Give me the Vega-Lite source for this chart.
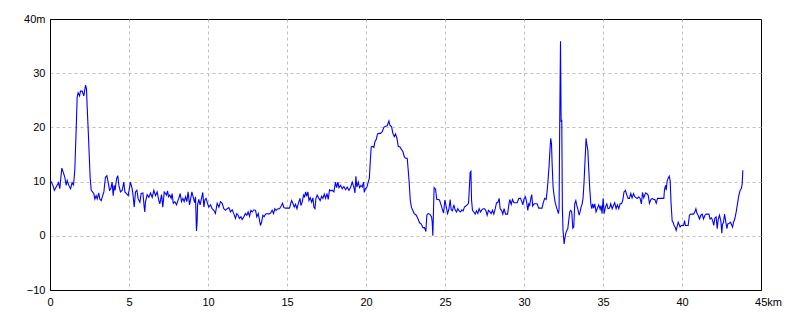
{
  "$schema": "https://vega.github.io/schema/vega-lite/v6.json",
  "autosize": "none",
  "width": 711,
  "height": 271,
  "padding": {"left": 50, "top": 19, "right": 39, "bottom": 30},
  "background": "white",
  "config": {
    "view": {"stroke": "#000000", "strokeWidth": 1},
    "axis": {
      "labelFont": "Liberation Sans Narrow, Liberation Sans, sans-serif",
      "labelFontSize": 11,
      "labelColor": "#000000",
      "domainColor": "#000000",
      "domainWidth": 1,
      "ticks": false,
      "grid": true,
      "gridColor": "#c0c0c0",
      "gridDash": [3, 3],
      "gridWidth": 1,
      "title": null
    }
  },
  "data": {"values": [
    {"x":0,"y":10.0},{"x":0.07,"y":10.0},{"x":0.18,"y":9.3},{"x":0.28,"y":8.4},{"x":0.39,"y":9.0},{"x":0.54,"y":9.8},{"x":0.62,"y":8.7},{"x":0.71,"y":11.4},{"x":0.75,"y":12.5},{"x":0.85,"y":11.6},{"x":0.94,"y":10.8},{"x":1.02,"y":9.3},{"x":1.09,"y":10.2},{"x":1.19,"y":9.3},{"x":1.30,"y":8.7},{"x":1.40,"y":9.8},{"x":1.49,"y":9.4},{"x":1.57,"y":12.2},{"x":1.66,"y":20},{"x":1.72,"y":25.6},{"x":1.78,"y":26.4},{"x":1.87,"y":25.8},{"x":1.93,"y":26.7},{"x":2.04,"y":26.7},{"x":2.14,"y":25.8},{"x":2.25,"y":27.8},{"x":2.31,"y":27.1},{"x":2.35,"y":24},{"x":2.42,"y":19.4},{"x":2.48,"y":15.1},{"x":2.54,"y":10.8},{"x":2.61,"y":8.4},{"x":2.69,"y":8.1},{"x":2.77,"y":7.8},{"x":2.84,"y":6.8},{"x":2.92,"y":7.4},{"x":2.99,"y":6.8},{"x":3.09,"y":7.9},{"x":3.15,"y":6.8},{"x":3.24,"y":6.5},{"x":3.30,"y":7.1},{"x":3.41,"y":8.1},{"x":3.51,"y":10.8},{"x":3.60,"y":11.1},{"x":3.68,"y":9.9},{"x":3.77,"y":8.4},{"x":3.85,"y":8.7},{"x":3.93,"y":9.9},{"x":4.00,"y":7.4},{"x":4.06,"y":9.3},{"x":4.12,"y":8.4},{"x":4.21,"y":10.5},{"x":4.29,"y":11.1},{"x":4.36,"y":9.3},{"x":4.46,"y":8.1},{"x":4.57,"y":8.4},{"x":4.67,"y":9.9},{"x":4.74,"y":8.1},{"x":4.84,"y":7.8},{"x":4.95,"y":7.4},{"x":5.09,"y":9.9},{"x":5.20,"y":8.7},{"x":5.26,"y":7.4},{"x":5.33,"y":5.3},{"x":5.41,"y":8.1},{"x":5.50,"y":8.4},{"x":5.58,"y":6.8},{"x":5.69,"y":6.2},{"x":5.77,"y":7.8},{"x":5.88,"y":7.9},{"x":5.96,"y":5.3},{"x":6.00,"y":4.4},{"x":6.04,"y":6.2},{"x":6.15,"y":7.6},{"x":6.26,"y":7.1},{"x":6.36,"y":7.9},{"x":6.47,"y":7.1},{"x":6.57,"y":8.4},{"x":6.68,"y":7.4},{"x":6.78,"y":8.1},{"x":6.89,"y":6.5},{"x":6.95,"y":5.9},{"x":7.06,"y":7.6},{"x":7.14,"y":5.3},{"x":7.23,"y":8.1},
    {"x":7.31,"y":7.8},{"x":7.37,"y":7.5},{"x":7.44,"y":8.3},{"x":7.50,"y":7.2},{"x":7.58,"y":7.5},{"x":7.67,"y":6.9},{"x":7.73,"y":7.8},{"x":7.80,"y":6.0},{"x":7.90,"y":6.3},{"x":8.01,"y":5.7},{"x":8.07,"y":6.3},{"x":8.15,"y":6.9},{"x":8.24,"y":7.8},{"x":8.32,"y":6.3},{"x":8.41,"y":6.9},{"x":8.49,"y":6.3},{"x":8.58,"y":7.2},{"x":8.66,"y":6.3},{"x":8.74,"y":8.1},{"x":8.83,"y":5.7},{"x":8.89,"y":6.6},{"x":8.98,"y":8.1},{"x":9.06,"y":7.2},{"x":9.15,"y":6.1},{"x":9.21,"y":7.2},{"x":9.27,"y":0.9},{"x":9.31,"y":2.5},{"x":9.34,"y":5.7},{"x":9.42,"y":6.7},{"x":9.50,"y":5.7},{"x":9.59,"y":6.9},{"x":9.67,"y":8.0},{"x":9.74,"y":5.3},{"x":9.80,"y":6.6},{"x":9.88,"y":6.9},{"x":9.97,"y":6.0},{"x":10.05,"y":5.3},{"x":10.16,"y":5.7},{"x":10.26,"y":5.0},{"x":10.37,"y":4.7},{"x":10.47,"y":4.1},{"x":10.58,"y":6.0},{"x":10.69,"y":5.3},{"x":10.79,"y":6.3},{"x":10.90,"y":6.0},{"x":11.00,"y":5.0},{"x":11.11,"y":4.7},{"x":11.21,"y":5.0},{"x":11.32,"y":5.2},{"x":11.42,"y":4.4},{"x":11.53,"y":4.8},{"x":11.63,"y":4.1},{"x":11.74,"y":3.2},{"x":11.82,"y":4.1},{"x":11.91,"y":3.8},{"x":11.99,"y":3.2},{"x":12.08,"y":3.5},{"x":12.16,"y":3.0},{"x":12.27,"y":3.5},{"x":12.37,"y":4.1},{"x":12.46,"y":3.8},{"x":12.54,"y":4.4},{"x":12.63,"y":3.6},{"x":12.71,"y":4.7},{"x":12.80,"y":4.4},{"x":12.90,"y":4.8},{"x":13.01,"y":4.7},{"x":13.09,"y":3.5},{"x":13.18,"y":4.1},{"x":13.26,"y":2.9},{"x":13.32,"y":1.9},{"x":13.39,"y":2.5},{"x":13.47,"y":3.8},{"x":13.55,"y":3.5},{"x":13.64,"y":4.0},{"x":13.74,"y":4.1},{"x":13.85,"y":4.0},{"x":13.96,"y":4.2},{"x":14.06,"y":4.7},{"x":14.15,"y":4.1},{"x":14.23,"y":5.0},{"x":14.31,"y":4.7},{"x":14.42,"y":5.0},{"x":14.53,"y":5.0},{"x":14.63,"y":5.5},{"x":14.72,"y":6.0},{"x":14.80,"y":5.2},
    {"x":14.91,"y":5.1},{"x":15.04,"y":5.1},{"x":15.16,"y":5.1},{"x":15.23,"y":5.9},{"x":15.29,"y":6.5},{"x":15.37,"y":6.0},{"x":15.46,"y":5.3},{"x":15.54,"y":5.8},{"x":15.63,"y":5.0},{"x":15.71,"y":5.9},{"x":15.82,"y":6.9},{"x":15.88,"y":5.6},{"x":15.96,"y":6.2},{"x":16.05,"y":7.5},{"x":16.11,"y":7.2},{"x":16.18,"y":8.1},{"x":16.24,"y":7.3},{"x":16.32,"y":8.1},{"x":16.39,"y":6.5},{"x":16.47,"y":7.0},{"x":16.56,"y":6.2},{"x":16.64,"y":7.0},{"x":16.70,"y":5.3},{"x":16.77,"y":5.0},{"x":16.83,"y":6.9},{"x":16.91,"y":7.5},{"x":17.02,"y":6.9},{"x":17.10,"y":6.5},{"x":17.19,"y":7.3},{"x":17.27,"y":6.9},{"x":17.36,"y":7.7},{"x":17.44,"y":6.9},{"x":17.53,"y":7.8},{"x":17.61,"y":6.7},{"x":17.69,"y":8.5},{"x":17.78,"y":8.3},{"x":17.86,"y":8.4},{"x":17.97,"y":8.1},{"x":18.07,"y":9.9},{"x":18.14,"y":8.9},{"x":18.22,"y":9.9},{"x":18.29,"y":8.9},{"x":18.39,"y":9.3},{"x":18.50,"y":8.7},{"x":18.60,"y":9.1},{"x":18.71,"y":8.5},{"x":18.81,"y":9.0},{"x":18.92,"y":8.4},{"x":19.02,"y":8.9},{"x":19.13,"y":9.9},{"x":19.23,"y":9.0},{"x":19.30,"y":7.9},{"x":19.36,"y":11.0},{"x":19.42,"y":9.0},{"x":19.51,"y":9.9},{"x":19.59,"y":8.9},{"x":19.68,"y":9.3},{"x":19.76,"y":9.0},{"x":19.85,"y":9.9},{"x":19.89,"y":8.0},{"x":19.97,"y":8.7},{"x":20.06,"y":9.0},{"x":20.14,"y":9.9},{"x":20.21,"y":10.6},{"x":20.27,"y":13.6},{"x":20.33,"y":16.4},{"x":20.42,"y":16.5},{"x":20.50,"y":16.3},{"x":20.56,"y":17.3},{"x":20.65,"y":17.8},{"x":20.73,"y":18.8},{"x":20.82,"y":18.9},{"x":20.92,"y":18.9},{"x":21.03,"y":19.2},{"x":21.13,"y":20.0},{"x":21.24,"y":20.2},{"x":21.34,"y":20.3},{"x":21.45,"y":21.2},{"x":21.51,"y":20.4},{"x":21.62,"y":20.1},{"x":21.70,"y":18.9},{"x":21.79,"y":18.3},{"x":21.87,"y":18.8},{"x":21.96,"y":18.0},{"x":22.04,"y":16.5},{"x":22.15,"y":16.4},{"x":22.25,"y":15.9},{"x":22.34,"y":15.5},{"x":22.42,"y":14.6},
    {"x":22.50,"y":14.3},{"x":22.61,"y":14.3},{"x":22.67,"y":12.2},{"x":22.73,"y":10.0},{"x":22.80,"y":6.6},{"x":22.88,"y":5.2},{"x":22.96,"y":4.7},{"x":23.05,"y":4.1},{"x":23.18,"y":3.8},{"x":23.28,"y":3.2},{"x":23.39,"y":2.4},{"x":23.49,"y":2.2},{"x":23.60,"y":1.5},{"x":23.70,"y":1.5},{"x":23.79,"y":0.8},{"x":23.85,"y":3.8},{"x":23.93,"y":4.1},{"x":24.04,"y":4.0},{"x":24.15,"y":3.5},{"x":24.19,"y":2.5},{"x":24.23,"y":0},{"x":24.27,"y":4.4},{"x":24.31,"y":8.9},{"x":24.40,"y":8.6},{"x":24.48,"y":6.7},{"x":24.57,"y":6.7},{"x":24.65,"y":6.6},{"x":24.74,"y":5.8},{"x":24.82,"y":5.0},{"x":24.91,"y":4.2},{"x":24.99,"y":6.6},{"x":25.07,"y":5.5},{"x":25.16,"y":4.1},{"x":25.24,"y":4.8},{"x":25.33,"y":6.7},{"x":25.39,"y":4.8},{"x":25.47,"y":4.6},{"x":25.56,"y":5.7},{"x":25.64,"y":4.8},{"x":25.73,"y":4.4},{"x":25.81,"y":5.0},{"x":25.90,"y":4.6},{"x":25.98,"y":4.4},{"x":26.07,"y":4.8},{"x":26.15,"y":4.6},{"x":26.23,"y":5.3},{"x":26.32,"y":5.5},{"x":26.40,"y":5.7},{"x":26.49,"y":6.0},{"x":26.53,"y":8.1},{"x":26.59,"y":11.7},{"x":26.64,"y":11.9},{"x":26.68,"y":6.6},{"x":26.74,"y":4.7},{"x":26.82,"y":4.4},{"x":26.91,"y":4.0},{"x":26.99,"y":4.6},{"x":27.08,"y":4.1},{"x":27.16,"y":5.0},{"x":27.25,"y":4.4},{"x":27.33,"y":4.8},{"x":27.42,"y":5.0},{"x":27.50,"y":5.0},{"x":27.58,"y":4.7},{"x":27.67,"y":3.8},{"x":27.75,"y":4.7},{"x":27.84,"y":4.4},{"x":27.92,"y":4.1},{"x":28.01,"y":4.7},{"x":28.09,"y":4.0},{"x":28.18,"y":5.0},{"x":28.26,"y":6.1},{"x":28.34,"y":6.1},{"x":28.43,"y":6.9},{"x":28.49,"y":5.0},{"x":28.58,"y":4.7},{"x":28.66,"y":4.0},{"x":28.74,"y":5.0},{"x":28.83,"y":4.0},{"x":28.96,"y":4.0},{"x":29.04,"y":5.7},{"x":29.10,"y":6.7},{"x":29.19,"y":5.8},{"x":29.27,"y":6.7},{"x":29.36,"y":6.1},{"x":29.46,"y":6.1},{"x":29.57,"y":6.1},{"x":29.67,"y":6.9},{"x":29.78,"y":6.9},{"x":29.86,"y":6.3},{"x":29.93,"y":5.7},{"x":29.99,"y":6.7},
    {"x":30.09,"y":7.2},{"x":30.17,"y":6.2},{"x":30.24,"y":4.7},{"x":30.30,"y":5.9},{"x":30.36,"y":5.6},{"x":30.43,"y":6.9},{"x":30.49,"y":7.6},{"x":30.55,"y":5.5},{"x":30.64,"y":5.9},{"x":30.72,"y":5.9},{"x":30.83,"y":5.9},{"x":30.93,"y":5.1},{"x":31.04,"y":5.1},{"x":31.14,"y":5.1},{"x":31.23,"y":6.2},{"x":31.31,"y":6.9},{"x":31.40,"y":6.7},{"x":31.46,"y":8.1},{"x":31.52,"y":10.2},{"x":31.59,"y":13.0},{"x":31.65,"y":16.2},{"x":31.69,"y":18.0},{"x":31.74,"y":17.0},{"x":31.78,"y":13.3},{"x":31.84,"y":9.0},{"x":31.90,"y":7.5},{"x":31.97,"y":6.2},{"x":32.05,"y":5.3},{"x":32.12,"y":4.7},{"x":32.18,"y":4.1},{"x":32.22,"y":5.0},{"x":32.26,"y":20.4},{"x":32.31,"y":35.9},{"x":32.35,"y":21.0},{"x":32.39,"y":21.4},{"x":32.43,"y":5.0},{"x":32.47,"y":1.0},{"x":32.54,"y":-1.5},{"x":32.58,"y":-0.6},{"x":32.64,"y":0.4},{"x":32.71,"y":1.0},{"x":32.77,"y":1.3},{"x":32.83,"y":2.8},{"x":32.90,"y":4.5},{"x":32.96,"y":4.7},{"x":33.02,"y":4.4},{"x":33.09,"y":1.4},{"x":33.15,"y":1.6},{"x":33.21,"y":5.9},{"x":33.28,"y":6.5},{"x":33.34,"y":5.6},{"x":33.40,"y":5.0},{"x":33.49,"y":3.8},{"x":33.55,"y":4.4},{"x":33.61,"y":5.3},{"x":33.68,"y":5.9},{"x":33.74,"y":7.0},{"x":33.80,"y":9.9},{"x":33.87,"y":14.3},{"x":33.93,"y":18.0},{"x":33.97,"y":17.0},{"x":34.04,"y":15.8},{"x":34.10,"y":12.1},{"x":34.16,"y":8.7},{"x":34.23,"y":5.9},{"x":34.29,"y":5.0},{"x":34.35,"y":5.9},{"x":34.41,"y":5.1},{"x":34.48,"y":5.9},{"x":34.56,"y":4.4},{"x":34.65,"y":5.1},{"x":34.73,"y":5.7},{"x":34.82,"y":4.9},{"x":34.88,"y":5.6},{"x":34.94,"y":4.1},{"x":35.01,"y":6.9},{"x":35.07,"y":4.1},{"x":35.15,"y":5.3},{"x":35.24,"y":5.9},{"x":35.32,"y":5.0},{"x":35.41,"y":5.1},{"x":35.49,"y":5.9},{"x":35.58,"y":5.0},{"x":35.66,"y":5.6},{"x":35.74,"y":6.1},{"x":35.83,"y":5.0},{"x":35.91,"y":5.7},{"x":36.00,"y":5.0},{"x":36.08,"y":5.9},{"x":36.17,"y":5.9},{"x":36.25,"y":6.5},{"x":36.33,"y":8.1},{"x":36.42,"y":8.4},{"x":36.50,"y":7.6},{"x":36.59,"y":6.9},{"x":36.67,"y":6.9},{"x":36.76,"y":7.8},{"x":36.84,"y":7.0},{"x":36.93,"y":7.8},{"x":37.01,"y":7.2},{"x":37.09,"y":7.0},{"x":37.18,"y":6.9},{"x":37.26,"y":7.2},{"x":37.35,"y":6.9},{"x":37.43,"y":5.9},{"x":37.50,"y":8.0},{"x":37.58,"y":7.0},
    {"x":37.69,"y":7.9},{"x":37.77,"y":7.8},{"x":37.86,"y":7.5},{"x":37.94,"y":6.0},{"x":38.03,"y":6.7},{"x":38.11,"y":6.9},{"x":38.20,"y":6.7},{"x":38.28,"y":6.7},{"x":38.37,"y":6.0},{"x":38.45,"y":6.9},{"x":38.53,"y":6.9},{"x":38.64,"y":6.9},{"x":38.74,"y":6.9},{"x":38.85,"y":6.9},{"x":38.89,"y":8.5},{"x":38.96,"y":9.3},{"x":39.00,"y":8.4},{"x":39.06,"y":10.1},{"x":39.12,"y":10.6},{"x":39.19,"y":11.0},{"x":39.25,"y":10.2},{"x":39.31,"y":5.9},{"x":39.38,"y":2.7},{"x":39.44,"y":2.5},{"x":39.50,"y":1.9},{"x":39.57,"y":1.6},{"x":39.63,"y":1.0},{"x":39.69,"y":1.7},{"x":39.76,"y":2.5},{"x":39.82,"y":2.1},{"x":39.88,"y":1.6},{"x":39.95,"y":1.9},{"x":40.01,"y":1.9},{"x":40.10,"y":1.9},{"x":40.16,"y":2.8},{"x":40.22,"y":1.9},{"x":40.31,"y":1.9},{"x":40.39,"y":1.9},{"x":40.47,"y":3.8},{"x":40.56,"y":4.0},{"x":40.64,"y":4.0},{"x":40.73,"y":4.0},{"x":40.81,"y":4.4},{"x":40.88,"y":5.0},{"x":40.94,"y":4.2},{"x":41.02,"y":3.8},{"x":41.11,"y":3.1},{"x":41.19,"y":3.8},{"x":41.28,"y":4.0},{"x":41.36,"y":3.1},{"x":41.45,"y":3.8},{"x":41.53,"y":4.0},{"x":41.61,"y":4.0},{"x":41.70,"y":4.0},{"x":41.78,"y":3.1},{"x":41.87,"y":3.3},{"x":41.95,"y":2.7},{"x":42.01,"y":1.9},{"x":42.08,"y":3.3},{"x":42.16,"y":3.5},{"x":42.23,"y":1.3},{"x":42.29,"y":3.0},{"x":42.37,"y":3.8},{"x":42.46,"y":2.7},{"x":42.52,"y":0.5},{"x":42.56,"y":2.1},{"x":42.63,"y":2.5},{"x":42.69,"y":4.0},{"x":42.75,"y":3.0},{"x":42.84,"y":1.3},{"x":42.90,"y":2.2},{"x":42.99,"y":2.3},{"x":43.07,"y":2.5},{"x":43.13,"y":2.1},{"x":43.20,"y":1.6},{"x":43.26,"y":2.5},{"x":43.34,"y":3.1},{"x":43.43,"y":4.4},{"x":43.51,"y":5.9},{"x":43.60,"y":7.5},{"x":43.68,"y":8.4},{"x":43.76,"y":8.7},{"x":43.81,"y":9.6},{"x":43.85,"y":12.1}
  ]},
  "mark": {"type": "line", "color": "#0000ff", "strokeWidth": 1.1, "clip": true},
  "encoding": {
    "x": {
      "field": "x", "type": "quantitative",
      "scale": {"domain": [0, 45], "nice": false, "zero": false},
      "axis": {
        "values": [0, 5, 10, 15, 20, 25, 30, 35, 40, 45],
        "labelExpr": "datum.value == 45 ? '45km' : datum.label",
        "labelOffset": {"condition": {"test": "datum.value == 45", "value": 7}, "value": 0},
        "gridOpacity": {"condition": {"test": "datum.value == 45 || datum.value == 0", "value": 0}, "value": 1},
        "labelPadding": 6,
        "labelFlush": false,
        "labelOverlap": false
      }
    },
    "y": {
      "field": "y", "type": "quantitative",
      "scale": {"domain": [-10, 40], "nice": false, "zero": false},
      "axis": {
        "values": [-10, 0, 10, 20, 30, 40],
        "labelExpr": "datum.value == 40 ? '40m' : datum.label",
        "gridOpacity": {"condition": {"test": "datum.value == 40 || datum.value == -10", "value": 0}, "value": 1},
        "labelPadding": 5,
        "labelFlush": false,
        "labelOverlap": false
      }
    }
  }
}
